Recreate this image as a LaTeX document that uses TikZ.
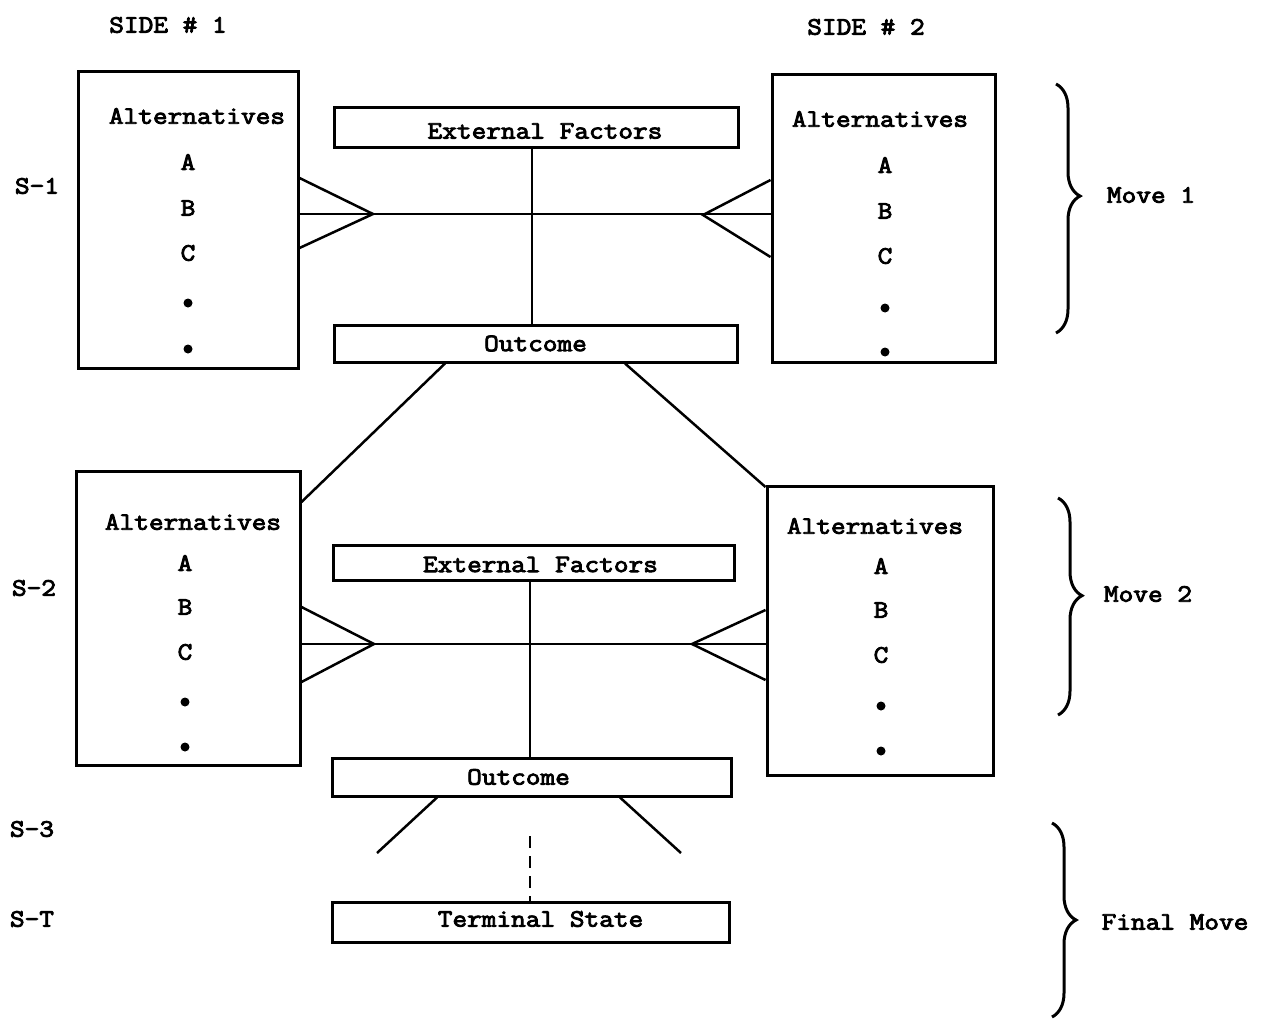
\documentclass[tikz,border=0pt]{standalone}
\usepackage{fontspec}
\newfontfamily\twfont{Latin Modern Mono}[FakeStretch=1.14, FakeBold=3.5]
\usetikzlibrary{decorations.pathreplacing}
\begin{document}
\begin{tikzpicture}[x=1pt,y=-1pt,
  txt/.style={font=\fontsize{25}{30}\twfont, inner sep=0pt},
  box/.style={draw, line width=3pt, inner sep=0pt},
  ln/.style={line width=2.5pt},
  dotn/.style={circle, fill, inner sep=0pt, minimum size=9pt},
  brc/.style={decorate, decoration={brace, amplitude=24pt, aspect=#1}, line width=3pt},
  brc/.default=0.5]
\useasboundingbox (0,0) rectangle (1265,1019);
% headers
\node[txt] (side1) at (168,25) {SIDE \# 1};
\node[txt] (side2) at (866,27) {SIDE \# 2};
% stage labels
\node[txt] (s1) at (37,186) {S-1};
\node[txt] (s2) at (34,588) {S-2};
\node[txt] (s3) at (32,829) {S-3};
\node[txt] (st) at (32,919) {S-T};
% move 1 boxes
\node[box, minimum width=220pt, minimum height=296pt] (alt1L) at (188,220) {};
\node[box, minimum width=223pt, minimum height=287pt] (alt1R) at (883.5,218.5) {};
\node[box, minimum width=404pt, minimum height=40pt] (ext1) at (536,128) {};
\node[box, minimum width=403pt, minimum height=37pt] (out1) at (535.5,343.5) {};
\node[txt] at (ext1.center) [xshift=9pt,yshift=-3pt] {External Factors};
\node[txt] at (out1.center) {Outcome};
% left box 1 contents
\node[txt] (a1t) at (197,116) {Alternatives};
\node[txt] (a1a) at (188,162) {A};
\node[txt] (a1b) at (188,208) {B};
\node[txt] (a1c) at (188,253) {C};
\node[dotn] (a1d) at (188,303) {};
\node[dotn] (a1e) at (188,349) {};
% right box 1 contents
\node[txt] (b1t) at (880,119) {Alternatives};
\node[txt] (b1a) at (885,165) {A};
\node[txt] (b1b) at (885,211) {B};
\node[txt] (b1c) at (885,256) {C};
\node[dotn] (b1d) at (885,308) {};
\node[dotn] (b1e) at (885,352) {};
% move 1 connectors
\coordinate (h1) at (532,214);
\coordinate (p1L) at (373,214);
\coordinate (p1R) at (703,215);
\draw[ln] (alt1L.east |- h1) -- (alt1R.west |- h1);
\draw[ln] (ext1.south -| h1) -- (out1.north -| h1);
\draw[ln] (alt1L.east |- 0,178) -- (p1L) -- (alt1L.east |- 0,248);
\draw[ln] (alt1R.west |- 0,180) -- (p1R) -- (alt1R.west |- 0,257);
% move 2 boxes
\node[box, minimum width=224pt, minimum height=294pt] (alt2L) at (188,618) {};
\node[box, minimum width=226pt, minimum height=289pt] (alt2R) at (880,630.5) {};
\node[box, minimum width=401pt, minimum height=35pt] (ext2) at (533.5,562.5) {};
\node[box, minimum width=399pt, minimum height=38pt] (out2) at (531.5,777) {};
\node[txt] at (ext2.center) [xshift=7pt,yshift=-2pt] {External Factors};
\node[txt] at (out2.center) [xshift=-13pt] {Outcome};
% left box 2 contents
\node[txt] (a2t) at (193,522) {Alternatives};
\node[txt] (a2a) at (185,563) {A};
\node[txt] (a2b) at (185,607) {B};
\node[txt] (a2c) at (185,652) {C};
\node[dotn] (a2d) at (185,702) {};
\node[dotn] (a2e) at (185,747) {};
% right box 2 contents
\node[txt] (b2t) at (875,526) {Alternatives};
\node[txt] (b2a) at (881,566) {A};
\node[txt] (b2b) at (881,610) {B};
\node[txt] (b2c) at (881,655) {C};
\node[dotn] (b2d) at (881,706) {};
\node[dotn] (b2e) at (881,751) {};
% links from outcome 1 to move 2
\draw[ln] (out1.south -| 445,0) -- (alt2L.east |- 0,502);
\draw[ln] (out1.south -| 625,0) -- (alt2R.west |- 0,487);
% move 2 connectors
\coordinate (h2) at (530,644);
\coordinate (p2L) at (374,644);
\coordinate (p2R) at (692,644);
\draw[ln] (alt2L.east |- h2) -- (alt2R.west |- h2);
\draw[ln] (ext2.south -| h2) -- (out2.north -| h2);
\draw[ln] (alt2L.east |- 0,607) -- (p2L) -- (alt2L.east |- 0,682);
\draw[ln] (alt2R.west |- 0,610) -- (p2R) -- (alt2R.west |- 0,680);
% terminal
\node[box, minimum width=397pt, minimum height=40pt] (term) at (530.5,922) {};
\node[txt] at (term.center) [xshift=10pt,yshift=3pt] {Terminal State};
\coordinate (e3L) at (377,853);
\coordinate (e3R) at (681,853);
\coordinate (dtop) at (530,836);
\draw[ln] (out2.south -| 437,0) -- (e3L);
\draw[ln] (out2.south -| 620,0) -- (e3R);
\draw[ln, dash pattern=on 12pt off 8pt] (dtop) -- (term.north -| dtop);
% braces
\coordinate (br1t) at (1056,84);
\coordinate (br1b) at (1056,333);
\draw[brc=0.45] (br1t) -- (br1b);
\node[txt] (m1) at (1151,195) {Move 1};
\coordinate (br2t) at (1058,498);
\coordinate (br2b) at (1058,715);
\draw[brc=0.45] (br2t) -- (br2b);
\node[txt] (m2) at (1148,594) {Move 2};
\coordinate (br3t) at (1052,823);
\coordinate (br3b) at (1052,1017);
\draw[brc=0.5] (br3t) -- (br3b);
\node[txt] (m3) at (1175,922) {Final Move};
\end{tikzpicture}
\end{document}
